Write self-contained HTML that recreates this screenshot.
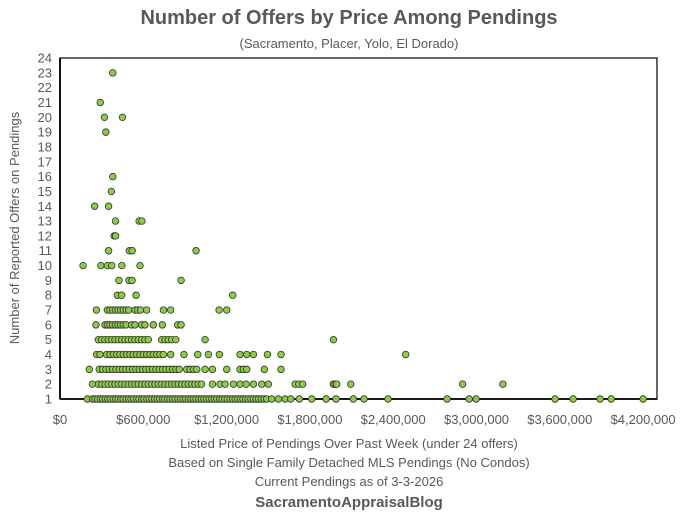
<!DOCTYPE html>
<html><head><meta charset="utf-8">
<style>
body{margin:0;background:#fff;}
svg text{font-family:"Liberation Sans",Arial,sans-serif;fill:#595959;}
</style></head>
<body>
<svg width="698" height="514" viewBox="0 0 698 514" xmlns="http://www.w3.org/2000/svg">
<rect width="698" height="514" fill="#fff"/>
<text x="349" y="24" text-anchor="middle" font-size="20" font-weight="bold">Number of Offers by Price Among Pendings</text>
<text x="349" y="48" text-anchor="middle" font-size="13">(Sacramento, Placer, Yolo, El Dorado)</text>
<text transform="translate(19,228) rotate(-90)" text-anchor="middle" font-size="13">Number of Reported Offers on Pendings</text>
<text x="349" y="448" text-anchor="middle" font-size="13">Listed Price of Pendings Over Past Week (under 24 offers)</text>
<text x="349" y="467" text-anchor="middle" font-size="13">Based on Single Family Detached MLS Pendings (No Condos)</text>
<text x="349" y="486" text-anchor="middle" font-size="13">Current Pendings as of 3-3-2026</text>
<text x="349" y="507" text-anchor="middle" font-size="15" font-weight="bold">SacramentoAppraisalBlog</text>
<g id="axes"></g>
<g id="marks"></g>
</svg>
<script>
const xTicks=[0,600000,1200000,1800000,2400000,3000000,3600000,4200000];
const xTickLabels=["$0","$600,000","$1,200,000","$1,800,000","$2,400,000","$3,000,000","$3,600,000","$4,200,000"];
const yTicks=[1,2,3,4,5,6,7,8,9,10,11,12,13,14,15,16,17,18,19,20,21,22,23,24];
const offerLevels=[1,2,3,4,5,6,7,8,9,10,11,12,13,14,15,16,19,20,21,23];
const priceListsK=[
 [197,235,252,270,291,308,327,345,362,383,401,419,438,455,476,494,512,530,551,569,588,605,626,643,662,681,700,718,738,755,775,793,812,830,850,868,887,905,925,943,961,980,1000,1018,1037,1055,1075,1093,1112,1130,1150,1168,1187,1205,1225,1243,1262,1280,1300,1318,1337,1355,1375,1393,1412,1430,1450,1470,1489,1525,1573,1621,1662,1724,1813,1917,1988,2113,2190,2363,2788,2947,2997,3566,3696,3890,3970,4200],
 [233,276,300,324,348,372,396,420,444,468,492,516,540,564,588,612,636,660,684,708,732,756,780,804,828,852,876,900,924,948,972,996,1020,1098,1153,1189,1249,1297,1340,1393,1453,1501,1693,1720,1748,1969,1981,1993,2094,2900,3190],
 [211,283,307,331,355,379,403,427,451,475,499,523,547,571,595,619,643,667,691,715,739,763,787,811,835,859,913,937,961,985,1045,1098,1201,1297,1321,1345,1472,1592],
 [264,288,336,360,384,408,432,456,480,504,528,552,576,600,624,648,672,696,720,744,797,893,992,1069,1148,1297,1345,1393,1494,1592,2490],
 [276,300,324,348,372,396,420,444,468,492,516,540,564,588,612,636,732,757,780,805,834,1045,1970],
 [259,324,341,360,379,399,418,437,456,476,516,540,588,612,672,737,848,872],
 [262,341,360,379,399,418,437,456,476,495,540,560,581,624,745,797,1146,1201],
 [413,444,548,1244],
 [425,497,519,872],
 [166,294,342,373,445,576],
 [350,500,520,980],
 [390,400],
 [400,570,590],
 [250,350],
 [370],
 [380],
 [330],
 [320,450],
 [290],
 [380]
];
const X0=60,X1=657,Y0=399,Y1=58,XMAX=4300000,YMIN=1,YMAX=24;
function xs(v){return X0+(v/XMAX)*(X1-X0);}
function ys(v){return Y0-(v-YMIN)/(YMAX-YMIN)*(Y0-Y1);}
const NS="http://www.w3.org/2000/svg";
const axes=document.getElementById('axes');
function mk(tag,attrs,parent){const e=document.createElementNS(NS,tag);for(const k in attrs)e.setAttribute(k,attrs[k]);parent.appendChild(e);return e;}
const box=mk('rect',{x:X0,y:Y1,width:X1-X0,height:Y0-Y1,fill:'none',stroke:'#000','stroke-width':1.2},axes);


const xl=mk('line',{x1:X0,y1:Y0,x2:X1,y2:Y0,stroke:'#000','stroke-width':1.8},axes);


const yl=mk('line',{x1:X0,y1:Y1,x2:X0,y2:Y0,stroke:'#000','stroke-width':1.8},axes);


yTicks.forEach(t=>{
 const tx=mk('text',{x:52,y:ys(t)+4.5,'text-anchor':'end','font-size':13},axes);
 tx.textContent=t;
 
 
});
xTicks.forEach((t,i)=>{
 const tx=mk('text',{x:xs(t),y:424,'text-anchor':'middle','font-size':13},axes);
 tx.textContent=xTickLabels[i];
 
 
});
const marks=document.getElementById('marks');
offerLevels.forEach((lvl,i)=>{
 priceListsK[i].forEach(p=>{
  const c=mk('circle',{cx:xs(p*1000),cy:ys(lvl),r:3.3,fill:'#8CCB46',stroke:'#333','stroke-width':0.8},marks);
  
  
 });
});
</script>
</body></html>
